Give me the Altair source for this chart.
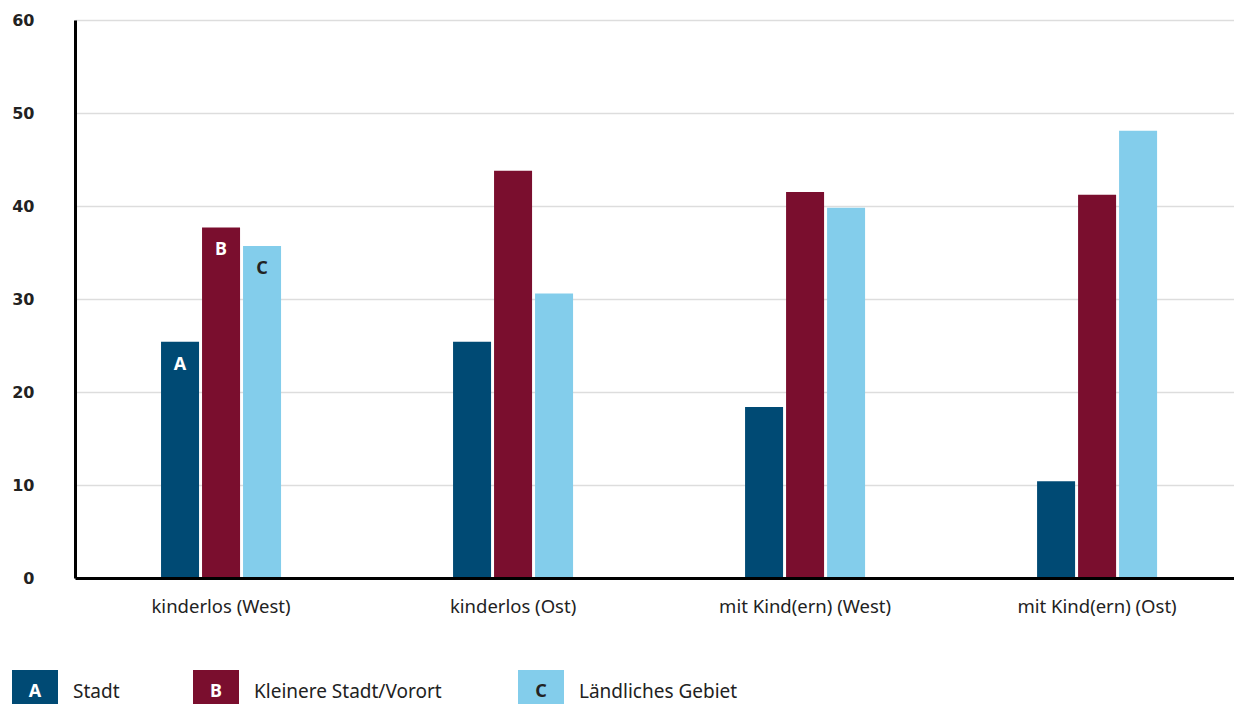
import altair as alt
import pandas as pd

categories = ["kinderlos (West)", "kinderlos (Ost)", "mit Kind(ern) (West)", "mit Kind(ern) (Ost)"]
series = ["Stadt", "Kleinere Stadt/Vorort", "Ländliches Gebiet"]
letters = ["A", "B", "C"]
stadt = [25.4, 25.4, 18.4, 10.4]
vorort = [37.7, 43.8, 41.5, 41.2]
laendlich = [35.7, 30.6, 39.8, 48.1]
colors = ["#004a74", "#7a0e2e", "#83cdeb"]
y_ticks = [0, 10, 20, 30, 40, 50, 60]

rows = []
for vals, s, l in zip([stadt, vorort, laendlich], series, letters):
    for c, v in zip(categories, vals):
        rows.append({"Kategorie": c, "Serie": s, "Buchstabe": l, "Wert": v})
df = pd.DataFrame(rows)

W, H = 1159, 558

x_enc = alt.X(
    "Kategorie:N", sort=categories,
    scale=alt.Scale(paddingInner=0.589, paddingOuter=0.279, align=0.528),
    axis=alt.Axis(title=None, labelAngle=0, ticks=False, labelPadding=19,
                  labelFont="Noto Sans", labelFontSize=18.5, labelColor="#222222",
                  domainColor="#000000", domainWidth=3, grid=False, zindex=1),
)
xo_enc = alt.XOffset("Serie:N", sort=series, scale=alt.Scale(paddingInner=0.073, paddingOuter=0))
y_enc = alt.Y(
    "Wert:Q", scale=alt.Scale(domain=[0, 60], nice=False),
    axis=alt.Axis(title=None, values=y_ticks, ticks=False, labelPadding=41,
                  labelFont="DejaVu Sans", labelFontWeight="bold", labelFontSize=16,
                  labelColor="#222222", gridColor="#dddddd", gridWidth=1.5,
                  domainColor="#000000", domainWidth=3),
)

base = alt.Chart(df)
bars = base.mark_bar().encode(
    x=x_enc, xOffset=xo_enc, y=y_enc,
    color=alt.Color("Serie:N", scale=alt.Scale(domain=series, range=colors), legend=None),
)
labels = base.transform_filter(alt.datum.Kategorie == categories[0]).mark_text(
    baseline="middle", align="center", dy=23, font="Noto Sans", fontWeight="bold", fontSize=18
).encode(
    x=x_enc, xOffset=xo_enc, y=y_enc, text="Buchstabe:N",
    color=alt.condition(alt.datum.Serie == series[2], alt.value("#222222"), alt.value("#ffffff")),
)

layers = [bars, labels]
one = alt.Data(values=[{"k": 1}])
legend_x = [-63, 118, 443]
for i, (s, l, col) in enumerate(zip(series, letters, colors)):
    lx = legend_x[i]
    layers.append(alt.Chart(one).mark_rect(color=col).encode(
        x=alt.value(lx), x2=alt.value(lx + 46), y=alt.value(650), y2=alt.value(700)))
    layers.append(alt.Chart(one).mark_text(
        text=l, align="center", baseline="middle", font="Noto Sans", fontWeight="bold",
        fontSize=18, color="#222222" if i == 2 else "#ffffff"
    ).encode(x=alt.value(lx + 23), y=alt.value(672)))
    layers.append(alt.Chart(one).mark_text(
        text=s, align="left", baseline="middle", font="Noto Sans", fontSize=19, color="#222222"
    ).encode(x=alt.value(lx + 61), y=alt.value(672)))

chart = alt.layer(*layers).properties(
    width=W, height=H,
    autosize=alt.AutoSizeParams(type="none"),
    padding={"left": 67, "top": 12, "right": 0, "bottom": 126},
).configure_view(stroke=None).configure(background="#ffffff")

chart.save("out.html", embed_options={"renderer": "svg", "actions": False})
